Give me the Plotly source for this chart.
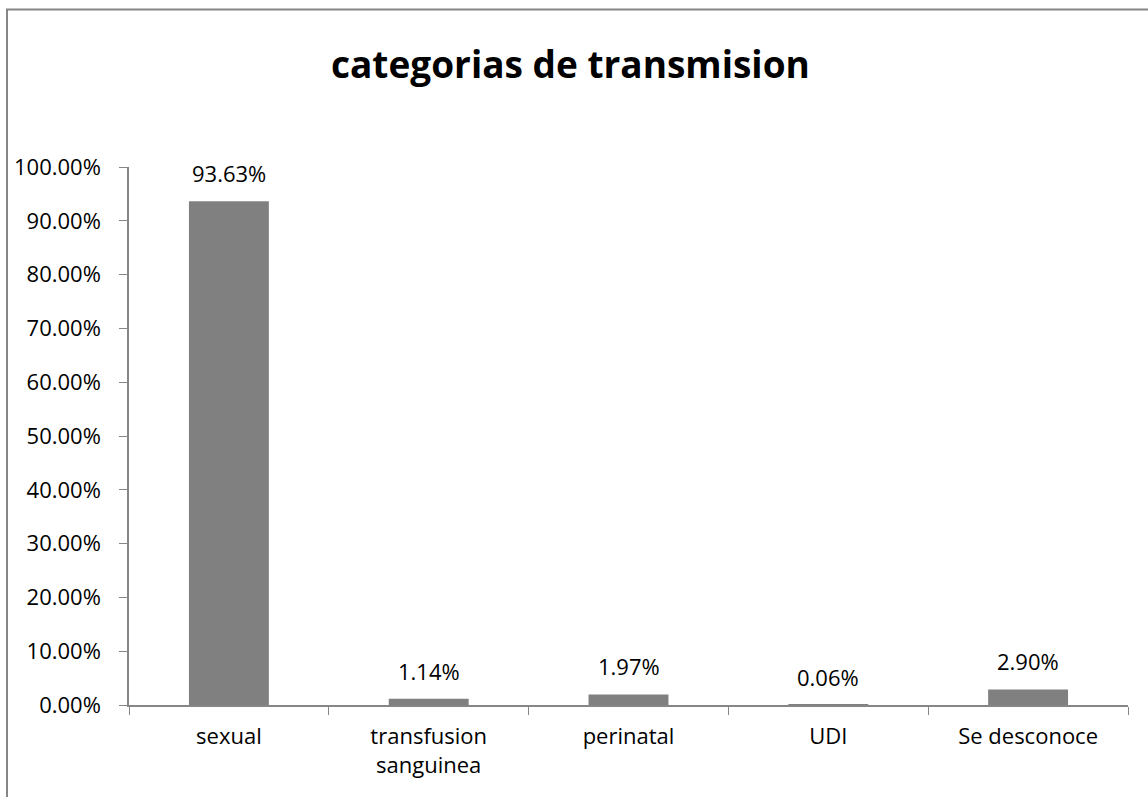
import plotly.graph_objects as go

categories = ["sexual", "transfusion<br>sanguinea", "perinatal", "UDI", "Se desconoce"]
values = [0.9363, 0.0114, 0.0197, 0.0006, 0.0290]
labels = ["93.63%", "1.14%", "1.97%", "0.06%", "2.90%"]
title = "categorias de transmision"

FONT = "Open Sans"
FS = 22
W, H = 1148, 797
L, R, T, B = 129, 20, 167, 92
pw, ph = W - L - R, H - T - B

fig = go.Figure()
fig.add_trace(go.Bar(x=categories, y=values, width=0.4, marker_color="#808080",
                     marker_line_width=0, hoverinfo="skip"))

for c, v, t in zip(categories, values, labels):
    fig.add_annotation(x=c, y=v, text=t, showarrow=False, yanchor="bottom",
                       yshift=11, font=dict(family=FONT, size=FS, color="#000"))

def px(xp):
    return (xp - L) / pw

def py(yp):
    return (H - B - yp) / ph

fig.add_shape(type="rect", xref="paper", yref="paper",
              x0=px(7), x1=px(1170), y0=py(815), y1=py(9.5),
              line=dict(color="#868686", width=2), layer="below")

fig.add_annotation(xref="paper", yref="paper", x=px(570), y=py(63),
                   text="<b>" + title + "</b>", showarrow=False,
                   xanchor="center", yanchor="middle",
                   font=dict(family=FONT, size=37, color="#000"))

fig.update_layout(
    width=W, height=H, margin=dict(l=L, r=R, t=T, b=B),
    plot_bgcolor="white", paper_bgcolor="white", showlegend=False,
    font=dict(family=FONT, size=FS, color="#000"),
    xaxis=dict(showline=True, linecolor="#868686", linewidth=1.5,
               ticks="outside", tickson="boundaries", ticklen=8,
               tickcolor="#868686", tickfont=dict(size=FS), showgrid=False,
               ticklabelstandoff=11),
    yaxis=dict(range=[0, 1], dtick=0.1, tickformat=".2%", showline=True,
               linecolor="#868686", linewidth=1.5, ticks="outside", ticklen=8,
               tickcolor="#868686", showgrid=False, zeroline=False,
               tickfont=dict(size=FS), ticklabelstandoff=14),
)

fig.write_html("out.html", config={"displayModeBar": False},
               post_script="document.body.style.margin='0';")
